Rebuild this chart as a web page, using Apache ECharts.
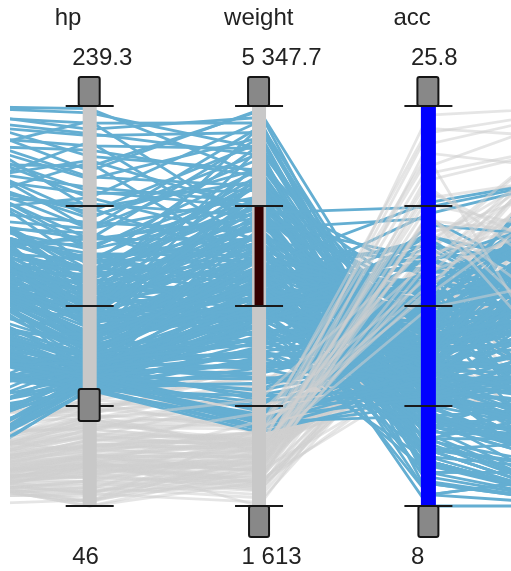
<!DOCTYPE html>
<html>
<head>
<meta charset="utf-8">
<script src="https://cdn.jsdelivr.net/npm/echarts@6/dist/echarts.min.js"></script>
<style>
  html, body { margin: 0; padding: 0; background: #fff; }
  #chart { width: 511px; height: 571px; }
</style>
</head>
<body>
<div id="chart"></div>
<script>
// Row layout: [displacement, hp, weight, acc, year]
// displacement and year sit just outside the visible window on either side.
const dimensions = ['displacement', 'hp', 'weight', 'acc', 'year'];
const axisNames = ['', 'hp', 'weight', 'acc', ''];
const axisMin = [68, 46, 1613, 8, 70];
const axisMax = [455, 239.3, 5347.7, 25.8, 82];
const shownAxes = [1, 2, 3];

// Brush state on the visible axes
const hpCut = 102;               // lower handle on hp: cars at or above are highlighted
const weightBand = [3480, 4414]; // dark band on weight
const accBand = [8, 25.8];       // full-length band on acc

// Low-horsepower cars, painted first
const economyEarly = [
  [97, 88, 2130, 14.5, 70], [97, 46, 1835, 20.5, 70], [90, 75, 2125, 14.5, 74],
  [91, 53, 1795, 17.5, 75], [98, 66, 1800, 14.4, 78], [85, 65, 1975, 19.4, 81],
  [89, 62, 2050, 17.3, 81], [86, 64, 1875, 16.4, 81], [98, 65, 2045, 16.2, 81],
  [79, 58, 1755, 16.9, 81], [85, 70, 2070, 18.6, 78], [91, 67, 1850, 13.8, 80],
  [97, 67, 2145, 18.0, 80], [135, 84, 2370, 13.0, 82], [151, 90, 2950, 17.3, 82],
  [140, 92, 2865, 16.4, 82], [120, 79, 2625, 18.6, 82], [119, 82, 2720, 19.4, 82],
  [98, 70, 2120, 15.5, 74], [122, 86, 2220, 14.0, 71], [116, 90, 2123, 14.0, 71],
  [79, 70, 2074, 19.5, 71], [71, 65, 1773, 19.0, 71], [72, 69, 1613, 18.0, 71],
  [76, 52, 1649, 16.5, 74], [83, 61, 2003, 19.0, 74], [90, 70, 1937, 14.0, 75],
  [97, 78, 2300, 14.5, 75], [116, 81, 2220, 16.9, 76], [140, 72, 2565, 13.6, 76],
  [97, 75, 2155, 16.4, 76], [98, 68, 2155, 16.5, 78], [111, 80, 2155, 14.8, 78],
  [79, 67, 1950, 19.0, 80], [86, 65, 2110, 17.9, 80], [86, 65, 2019, 16.4, 80],
  [120, 88, 2160, 14.5, 80], [108, 75, 2265, 15.2, 80], [156, 92, 2620, 14.4, 81],
  [98, 76, 2144, 14.7, 80], [107, 72, 2290, 17.0, 80], [105, 74, 2190, 14.2, 81],
  [105, 63, 2215, 14.9, 81], [91, 68, 1985, 16.0, 81], [97, 78, 2188, 15.8, 80],
  [107, 86, 2464, 15.5, 76], [116, 75, 2246, 14.0, 74], [140, 83, 2639, 17.0, 75],
  [101, 83, 2202, 15.3, 76], [121, 98, 2945, 14.5, 75], [122, 96, 2300, 15.5, 77],
  [134, 95, 2560, 14.2, 78], [108, 93, 2391, 15.5, 74], [156, 100, 2800, 14.4, 77],
  [146, 97, 2815, 14.5, 77], [97, 60, 1834, 19.0, 71], [98, 80, 2164, 15.0, 72],
  [98, 83, 2219, 16.5, 74], [90, 71, 2223, 16.5, 75], [151, 88, 2740, 16.0, 77],
  [68, 49, 1867, 19.5, 73], [105, 70, 2200, 13.2, 79], [91, 60, 1800, 16.4, 78],
  [97, 71, 1825, 15.5, 76], [93, 78, 2190, 15.1, 72], [102, 84, 2330, 14.6, 73],
  [87, 58, 1890, 17.9, 74], [95, 69, 2010, 15.8, 75], [110, 87, 2430, 15.4, 76],
  [128, 91, 2680, 16.1, 77], [82, 62, 1760, 16.0, 78], [99, 73, 2080, 15.6, 79],
  [114, 85, 2370, 16.6, 80], [94, 71, 1930, 17.1, 81], [131, 94, 2750, 15.9, 82],
  [88, 67, 1820, 15.9, 76], [104, 76, 2210, 14.8, 77], [118, 89, 2510, 15.7, 74],
  [76, 55, 1690, 16.8, 73], [100, 81, 2250, 14.3, 72], [92, 63, 1910, 18.3, 79],
  [125, 95, 2590, 14.9, 78], [84, 66, 1950, 17.6, 82], [96, 74, 2050, 15.3, 71],
  [143, 99, 2870, 15.8, 79], [109, 79, 2280, 16.2, 75], [81, 57, 1720, 17.7, 72],
  [97, 90, 2360, 14.0, 73], [106, 85, 2420, 15.0, 70], [120, 97, 2560, 13.8, 71]
];

// Large V8 cars
const bigBlocks = [
  [455, 236, 4950, 9.0, 70], [454, 228, 5240, 10.0, 70], [440, 225, 5100, 11.0, 72],
  [429, 220, 4950, 10.0, 70], [455, 215, 4750, 8.5, 70], [400, 210, 5300, 11.5, 73],
  [440, 205, 4600, 9.5, 71], [400, 200, 4450, 10.0, 70], [429, 198, 4400, 11.0, 73],
  [350, 195, 4100, 9.0, 70], [455, 190, 4650, 11.5, 72], [383, 190, 3900, 8.0, 70],
  [400, 185, 4900, 12.5, 74], [350, 180, 4500, 12.0, 73], [429, 180, 5150, 13.0, 75],
  [340, 178, 3700, 8.5, 71], [318, 175, 4300, 11.0, 72], [400, 232, 4200, 9.5, 70],
  [360, 222, 4050, 8.5, 71], [350, 212, 3850, 10.5, 70], [455, 238, 4700, 10.5, 71],
  [390, 188, 5000, 12.0, 73], [429, 195, 5200, 13.2, 72], [455, 208, 5310, 13.5, 73],
  [400, 150, 5150, 12.0, 71], [446, 226, 4890, 9.8, 70], [418, 218, 4690, 10.2, 71],
  [377, 213, 4380, 9.3, 70], [433, 204, 5050, 11.8, 72], [392, 197, 4560, 10.6, 71],
  [371, 192, 4320, 11.3, 72], [421, 186, 4760, 12.7, 74], [358, 183, 4180, 9.9, 70],
  [305, 177, 3860, 9.1, 70], [447, 231, 5190, 11.6, 71]
];

// Mid-size V8 cars
const midBlocks = [
  [350, 175, 4100, 13.0, 73], [400, 170, 4750, 11.5, 74], [350, 170, 4350, 12.0, 76],
  [318, 165, 3700, 11.5, 70], [350, 165, 3900, 12.0, 71], [351, 160, 4200, 13.5, 72],
  [304, 160, 3600, 10.5, 70], [350, 155, 4500, 14.0, 75], [318, 155, 3800, 12.5, 73],
  [400, 150, 4450, 13.0, 77], [318, 150, 3450, 11.0, 70], [302, 150, 3650, 12.0, 71],
  [360, 150, 4000, 14.0, 74], [350, 145, 4150, 13.5, 76], [304, 145, 3550, 14.5, 77],
  [318, 140, 3750, 13.0, 72], [302, 140, 3450, 10.5, 70], [351, 140, 4300, 14.0, 73],
  [305, 145, 3900, 15.0, 78], [318, 142, 4050, 12.5, 75], [350, 160, 4400, 12.0, 72],
  [302, 135, 3650, 13.5, 74], [305, 135, 3400, 15.5, 79], [350, 165, 4600, 13.0, 71],
  [400, 175, 5050, 12.5, 72], [318, 150, 4250, 14.5, 76], [302, 139, 3600, 12.5, 71],
  [360, 158, 4700, 14.0, 73], [340, 168, 3950, 10.0, 70], [307, 130, 3500, 12.0, 70],
  [350, 148, 4800, 13.5, 74], [318, 152, 3650, 11.5, 73], [351, 153, 4150, 12.0, 71],
  [302, 129, 3750, 15.0, 76], [400, 180, 4850, 12.0, 73], [350, 125, 4700, 13.5, 72],
  [327, 172, 4460, 12.8, 72], [283, 168, 3620, 11.2, 70], [366, 163, 4215, 13.1, 73],
  [296, 158, 3890, 12.4, 71], [412, 162, 4980, 13.9, 75], [338, 156, 4070, 11.8, 72],
  [276, 152, 3530, 12.1, 71], [372, 147, 4380, 14.6, 76], [291, 144, 3770, 13.3, 74],
  [343, 141, 4130, 15.2, 77], [268, 137, 3480, 13.8, 75], [312, 134, 3960, 14.1, 73],
  [385, 131, 4530, 15.8, 78], [297, 127, 3710, 16.3, 79], [324, 133, 3380, 11.9, 71],
  [356, 146, 3920, 10.8, 70], [281, 149, 3310, 10.2, 70], [407, 171, 4590, 10.9, 71],
  [333, 159, 4290, 13.6, 74], [365, 136, 4820, 15.4, 76], [345, 166, 4040, 12.6, 73],
  [318, 161, 3750, 11.6, 71], [389, 157, 4660, 13.4, 75], [301, 154, 3580, 13.0, 72],
  [352, 143, 4240, 14.8, 76], [288, 138, 3610, 12.7, 72], [329, 126, 3810, 15.3, 77],
  [261, 131, 3440, 14.4, 74], [310, 123, 3590, 13.9, 73]
];

// Slower-accelerating V8s and sixes
const cruisers = [
  [318, 145, 4380, 17.2, 74], [350, 138, 4520, 18.1, 75], [302, 130, 4010, 16.8, 73],
  [305, 124, 3770, 18.6, 76], [351, 148, 4160, 16.3, 72], [262, 117, 3520, 19.2, 74],
  [250, 112, 3310, 17.9, 73], [318, 133, 3920, 17.6, 71], [350, 142, 4260, 19.0, 75],
  [231, 109, 3180, 18.3, 72], [302, 128, 3620, 16.6, 70], [258, 115, 3460, 20.1, 76],
  [400, 152, 4610, 17.0, 76], [304, 121, 3840, 19.6, 77], [232, 106, 3070, 17.3, 71],
  [350, 136, 4090, 18.8, 74], [318, 127, 3560, 16.1, 72], [383, 160, 4470, 16.5, 73],
  [290, 119, 3710, 19.9, 75], [250, 113, 3420, 18.0, 70]
];

// Sixes, small V8s and strong fours
const sixes = [
  [250, 110, 3650, 16.5, 76], [231, 110, 3400, 15.0, 77], [258, 110, 3600, 16.5, 73],
  [232, 112, 3250, 16.0, 75], [250, 105, 3550, 17.0, 75], [225, 105, 3600, 18.0, 77],
  [231, 105, 3400, 19.0, 76], [200, 105, 3050, 16.0, 79], [260, 110, 3800, 18.5, 78],
  [302, 129, 3900, 14.5, 74], [318, 135, 3800, 14.0, 78], [305, 130, 3950, 15.5, 77],
  [350, 125, 4050, 16.0, 76], [231, 115, 3250, 15.5, 79], [302, 120, 3700, 14.5, 75],
  [262, 110, 3250, 14.0, 77], [258, 110, 3800, 18.0, 79], [250, 105, 3400, 16.5, 74],
  [232, 102, 3000, 15.5, 73], [200, 102, 2900, 15.0, 75], [156, 105, 2750, 14.5, 80],
  [168, 116, 2900, 12.6, 81], [146, 120, 2950, 13.9, 82], [121, 112, 2850, 15.5, 77],
  [121, 110, 2650, 14.2, 82], [134, 104, 2550, 16.0, 80], [97, 107, 2450, 16.5, 78],
  [133, 115, 2900, 15.3, 76], [163, 125, 3150, 13.6, 78], [146, 116, 3050, 14.0, 79],
  [168, 120, 3000, 12.5, 80], [173, 115, 2600, 12.9, 79], [181, 110, 2950, 14.5, 82],
  [225, 110, 3600, 21.0, 80], [232, 112, 2850, 20.5, 78], [200, 108, 3300, 20.0, 77],
  [262, 112, 3400, 19.5, 75], [231, 103, 3150, 19.0, 78], [318, 140, 4150, 16.5, 77],
  [305, 130, 3850, 17.0, 79], [350, 120, 3900, 15.5, 76], [302, 122, 3300, 13.5, 74],
  [318, 128, 3650, 12.5, 73], [304, 125, 3550, 12.0, 72], [258, 110, 3350, 13.5, 71],
  [250, 105, 3250, 14.0, 72], [232, 108, 2800, 13.0, 71], [225, 107, 3200, 14.5, 73],
  [318, 137, 4450, 13.0, 74], [350, 132, 4650, 14.5, 75], [400, 138, 4950, 14.0, 76],
  [351, 135, 4350, 15.0, 77], [302, 126, 4150, 16.0, 78], [305, 118, 3950, 17.5, 80],
  [262, 115, 3650, 16.0, 79], [231, 112, 3500, 17.0, 78], [250, 102, 3350, 18.0, 76],
  [225, 103, 3100, 17.5, 79], [200, 104, 2850, 17.0, 81], [151, 108, 2700, 16.0, 82],
  [120, 103, 2350, 12.5, 73], [97, 102, 2300, 13.0, 72], [85, 102, 2400, 12.0, 71],
  [80, 103, 2330, 13.5, 70], [302, 140, 3200, 11.0, 70], [318, 150, 3100, 10.0, 70],
  [350, 165, 3250, 9.5, 71], [304, 132, 3350, 10.5, 72], [302, 135, 3450, 11.5, 73],
  [350, 105, 4350, 21.3, 80], [260, 110, 4200, 20.8, 76], [305, 115, 3850, 21.5, 80],
  [98, 105, 2400, 14.0, 76], [91, 110, 2500, 13.5, 78], [105, 108, 2350, 15.0, 75],
  [271, 122, 3570, 15.9, 77], [243, 118, 3340, 16.7, 78], [214, 114, 3180, 15.1, 76],
  [189, 111, 3020, 14.8, 79], [247, 108, 3460, 17.6, 76], [222, 106, 3290, 18.4, 77],
  [196, 104, 2980, 16.8, 80], [173, 103, 2760, 15.7, 81], [158, 109, 2690, 14.6, 78],
  [141, 113, 2810, 13.8, 77], [128, 106, 2580, 15.2, 79], [117, 104, 2470, 14.7, 80],
  [187, 121, 3110, 13.4, 75], [209, 126, 3420, 14.3, 74], [236, 129, 3680, 13.1, 73],
  [256, 124, 3830, 15.6, 76], [274, 117, 3740, 17.2, 78], [239, 107, 3520, 18.9, 79],
  [211, 102, 3360, 19.7, 75], [264, 119, 3950, 16.9, 77], [198, 116, 3240, 12.8, 72],
  [176, 112, 3070, 12.2, 71], [219, 109, 2930, 13.6, 73], [153, 102, 2640, 13.2, 74],
  [134, 108, 2520, 12.9, 75], [112, 105, 2420, 14.1, 73], [103, 110, 2380, 13.7, 72],
  [95, 104, 2440, 12.8, 74], [247, 119, 3390, 14.9, 75], [229, 116, 3130, 16.4, 78],
  [284, 113, 3490, 17.8, 79]
];

// Low-horsepower cars painted over the rest
const economyLate = [
  [112, 88, 2605, 19.6, 82], [97, 52, 2130, 24.6, 82], [85, 52, 2035, 22.2, 76],
  [90, 48, 2085, 21.7, 80], [90, 48, 2335, 23.7, 80], [97, 54, 2254, 23.5, 72],
  [71, 65, 1836, 21.0, 74], [97, 46, 1950, 21.0, 73], [89, 60, 1968, 18.8, 80],
  [85, 65, 2020, 19.2, 79], [98, 48, 1985, 25.4, 82], [79, 58, 2075, 22.5, 81],
  [91, 53, 1965, 20.2, 79], [85, 61, 2100, 20.7, 78], [107, 75, 2300, 17.8, 81],
  [98, 66, 2400, 18.2, 82], [89, 56, 1980, 21.4, 78], [94, 62, 2090, 20.1, 80],
  [78, 51, 1870, 22.8, 81], [101, 69, 2240, 19.8, 81], [92, 58, 2160, 23.1, 82],
  [86, 63, 2010, 18.4, 79], [99, 72, 2310, 17.4, 80], [83, 53, 1910, 24.1, 82],
  [105, 77, 2480, 18.9, 81], [90, 66, 2140, 16.8, 77], [95, 49, 2050, 22.0, 77],
  [88, 70, 2190, 17.6, 82], [82, 55, 1930, 20.9, 75], [100, 60, 2270, 24.8, 81]
];

const rows = [].concat(economyEarly, bigBlocks, midBlocks, cruisers, sixes, economyLate);

const BLUE = '#64aed2';
const GREY = 'rgba(208,208,208,0.55)';
const TEXT = '#222';
const FONT = '24px "Liberation Sans", Arial, sans-serif';

// Axis spacing; the first and last axes fall outside the 511px window
const STEP = 169.35;
const FIRST_X = 89.7 - STEP;

const chart = echarts.init(document.getElementById('chart'), null, { renderer: 'canvas' });

chart.setOption({
  animation: false,
  parallel: {
    left: FIRST_X,
    top: 106,
    width: STEP * (dimensions.length - 1),
    height: 400,
    layout: 'horizontal'
  },
  parallelAxis: dimensions.map((d, i) => ({
    dim: i,
    type: 'value',
    name: '',
    min: axisMin[i],
    max: axisMax[i],
    axisLine: { show: false },
    axisTick: { show: false },
    // the parallel layout forces labels on, so they are emptied instead
    axisLabel: { show: false, formatter: () => '' },
    splitLine: { show: false }
  })),
  visualMap: {
    type: 'piecewise',
    show: false,
    seriesIndex: 0,
    dimension: 1,
    pieces: [
      { lt: hpCut, color: GREY },
      { gte: hpCut, color: BLUE }
    ]
  },
  series: [{
    type: 'parallel',
    silent: true,
    smooth: false,
    lineStyle: { width: 2.8, opacity: 1 },
    emphasis: { disabled: true },
    data: rows
  }]
});

function fmt(v) {
  const parts = String(v).split('.');
  const head = parts[0].replace(/\B(?=(\d{3})+(?!\d))/g, ' ');
  return parts.length > 1 ? head + '.' + parts[1] : head;
}

// Axis bars, ticks, handles and labels, placed through the parallel coordinate system
function drawAxisDecor() {
  const cs = chart.getModel().getComponent('parallel', 0).coordinateSystem;
  const px = (i, v) => cs.dataToPoint(v, 'dim' + i);
  const els = [
    { type: 'rect', silent: true, z: 50, shape: { x: 0, y: 0, width: 10, height: 571 }, style: { fill: '#fff' } }
  ];
  const handle = (x, y, w, h) => ({
    type: 'rect', silent: true, z: 70,
    shape: { x: x, y: y, width: w, height: h, r: 2 },
    style: { fill: '#888888', stroke: '#151515', lineWidth: 2 }
  });
  const text = (x, y, str) => ({
    type: 'text', silent: true, z: 80, x: x, y: y,
    style: { text: str, fill: TEXT, font: FONT, align: 'left', verticalAlign: 'middle' }
  });

  shownAxes.forEach(i => {
    const top = px(i, axisMax[i]);
    const x = top[0];
    const yTop = top[1];
    const yBot = px(i, axisMin[i])[1];

    els.push({ type: 'rect', silent: true, z: 60,
      shape: { x: x - 7, y: yTop, width: 14, height: yBot - yTop }, style: { fill: '#c8c8c8' } });

    if (axisNames[i] === 'weight') {
      const a = px(i, weightBand[1])[1], b = px(i, weightBand[0])[1];
      els.push({ type: 'rect', silent: true, z: 61,
        shape: { x: x - 4.5, y: a, width: 9, height: b - a }, style: { fill: '#330000' } });
    }
    if (axisNames[i] === 'acc') {
      const a = px(i, accBand[1])[1], b = px(i, accBand[0])[1];
      els.push({ type: 'rect', silent: true, z: 61,
        shape: { x: x - 7.5, y: a, width: 15, height: b - a }, style: { fill: '#0000ff' } });
    }

    for (let s = 0; s <= 4; s++) {
      const y = px(i, axisMin[i] + (axisMax[i] - axisMin[i]) * s / 4)[1];
      els.push({ type: 'line', silent: true, z: 65,
        shape: { x1: x - 24, y1: y, x2: x + 24, y2: y },
        style: { stroke: '#1a1a1a', lineWidth: 2 } });
    }

    els.push(handle(x - 11, yTop - 29, 21, 29));
    if (axisNames[i] === 'hp') {
      const yc = px(i, hpCut)[1];
      els.push(handle(x - 11, yc - 1, 21, 32));
    } else {
      els.push(handle(x - 10, yBot, 20, 31));
    }

    els.push(text(x - 35, 18.7, axisNames[i]));
    els.push(text(x - 17.5, 58.5, fmt(axisMax[i])));
    els.push(text(x - 17.5, 557.5, fmt(axisMin[i])));
  });

  chart.setOption({ graphic: { elements: els } });
}

drawAxisDecor();
</script>
</body>
</html>
